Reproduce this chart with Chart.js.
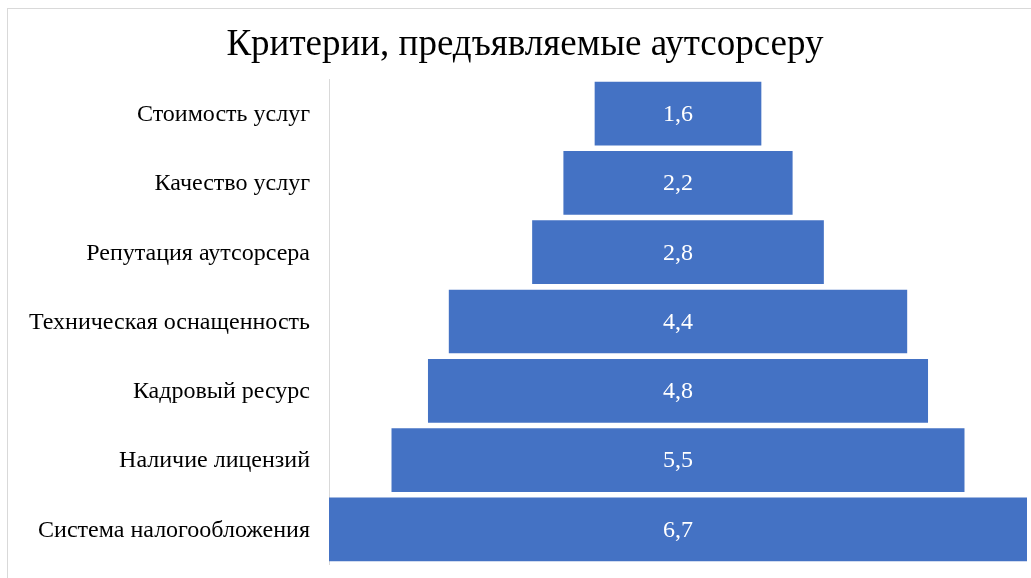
<!DOCTYPE html>
<html>
<head>
<meta charset="utf-8">
<script src="https://cdn.jsdelivr.net/npm/chart.js@4/dist/chart.umd.min.js"></script>
<style>
html,body{margin:0;padding:0;background:#fff;}
#wrap{position:relative;width:1031px;height:578px;}
#frame{position:absolute;left:7px;top:8px;width:1040px;height:600px;border:1px solid #d9d9d9;box-sizing:border-box;}
canvas{position:absolute;left:0;top:0;}
</style>
</head>
<body>
<div id="wrap">
<div id="frame"></div>
<canvas id="c" width="1031" height="578"></canvas>
</div>
<script>
const chartTitle = "Критерии, предъявляемые аутсорсеру";
const categories = ["Стоимость услуг","Качество услуг","Репутация аутсорсера","Техническая оснащенность","Кадровый ресурс","Наличие лицензий","Система налогообложения"];
const values = [1.6, 2.2, 2.8, 4.4, 4.8, 5.5, 6.7];

const maxV = Math.max(...values);
const mid = maxV / 2;
const floating = values.map(v => [mid - v/2, mid + v/2]);

const labelPlugin = {
  id: 'centerLabels',
  afterDatasetsDraw(chart) {
    const ctx = chart.ctx;
    const meta = chart.getDatasetMeta(0);
    const yScale = chart.scales.y;
    ctx.save();
    ctx.fillStyle = '#ffffff';
    ctx.font = '24px "Liberation Serif"';
    ctx.textAlign = 'center';
    ctx.textBaseline = 'middle';
    meta.data.forEach((el, i) => {
      const cx = (el.x + el.base) / 2;
      ctx.fillText(values[i].toFixed(1).replace('.', ','), cx, el.y + 1);
    });
    ctx.fillStyle = '#000000';
    ctx.textAlign = 'right';
    ctx.font = '24px "Liberation Serif"';
    categories.forEach((c, i) => {
      ctx.fillText(c, yScale.right - 19, yScale.getPixelForValue(i) + 1);
    });
    ctx.restore();
  }
};
const titlePlugin = {
  id: 'customTitle',
  afterDraw(chart) {
    const ctx = chart.ctx;
    ctx.save();
    ctx.fillStyle = '#000';
    ctx.font = '37px "Liberation Serif"';
    ctx.textAlign = 'center';
    ctx.textBaseline = 'alphabetic';
    ctx.fillText(chartTitle, 525, 55);
    ctx.restore();
  }
};

new Chart(document.getElementById('c'), {
  type: 'bar',
  data: {
    labels: categories,
    datasets: [{
      data: floating,
      backgroundColor: '#4472C4',
      borderWidth: 0,
      categoryPercentage: 1,
      barPercentage: 0.92
    }]
  },
  options: {
    indexAxis: 'y',
    responsive: false,
    animation: false,
    layout: { padding: { left: 0, right: 4, top: 79, bottom: 14 } },
    plugins: { legend: { display: false }, title: { display: false }, tooltip: { enabled: false } },
    scales: {
      x: { display: false, min: 0, max: maxV },
      y: {
        grid: { display: false, drawTicks: false },
        border: { display: true, color: '#d9d9d9', width: 1 },
        ticks: { display: false },
        afterFit(scale) { scale.width = 329; }
      }
    }
  },
  plugins: [labelPlugin, titlePlugin]
});
</script>
</body>
</html>
